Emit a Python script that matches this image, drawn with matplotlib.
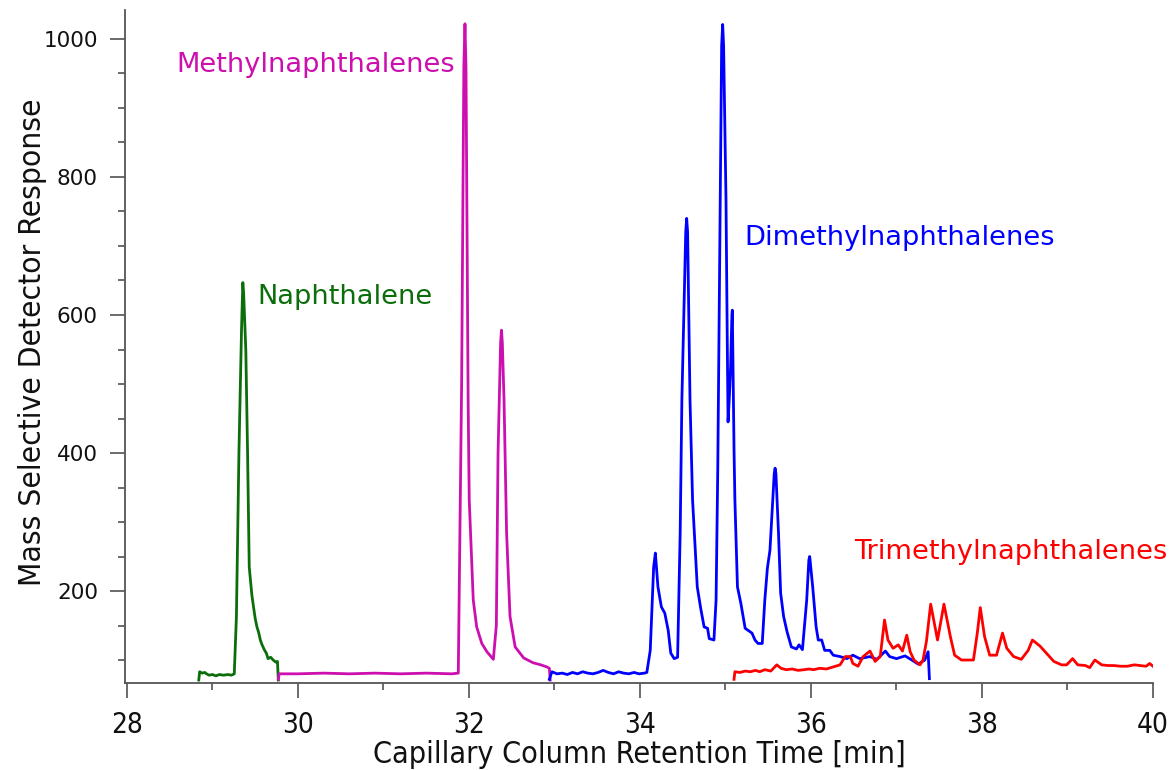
import os
import matplotlib
matplotlib.use("Agg")
import matplotlib.pyplot as plt
from matplotlib.ticker import MultipleLocator
from matplotlib import font_manager as fm

# ---------------- data ----------------
naph_t = [28.84, 28.85, 28.88, 28.91, 28.93, 28.96, 29.00, 29.04, 29.08, 29.13, 29.18, 29.22,
          29.255, 29.28, 29.31, 29.34, 29.355, 29.365, 29.39, 29.41, 29.43, 29.46, 29.48, 29.50,
          29.52, 29.54, 29.56, 29.58, 29.61, 29.63, 29.65, 29.68, 29.71, 29.74, 29.76, 29.77]
naph_v = [71, 83, 81, 82, 80, 78, 79, 77, 79, 78, 79, 78,
          80, 163, 404, 580, 647, 630, 549, 404, 235, 195, 177, 160,
          148, 140, 129, 122, 114, 110, 102, 104, 100, 97, 98, 71]

methyl_t = [29.77, 29.78, 30.0, 30.3, 30.6, 30.9, 31.2, 31.5, 31.8, 31.875, 31.914, 31.94,
            31.953, 31.965, 31.99, 32.003, 32.05, 32.09, 32.15, 32.21, 32.285, 32.32, 32.34,
            32.37, 32.38, 32.39, 32.41, 32.44, 32.48, 32.54, 32.64, 32.75, 32.84, 32.91,
            32.94, 32.95]
methyl_v = [72, 80, 80, 81, 80, 81, 80, 81, 80, 81, 500, 960,
            1022, 960, 477, 332, 187, 148, 124, 112, 101, 150, 400,
            560, 578, 560, 477, 284, 163, 119, 103, 96, 93, 90,
            88, 71]

dimethyl_t = [32.94, 32.97, 33.03, 33.09, 33.15, 33.21, 33.27, 33.33, 33.39, 33.45, 33.51,
              33.57, 33.63, 33.69, 33.75, 33.81, 33.87, 33.93, 33.99, 34.05, 34.08,
              34.12, 34.16, 34.18, 34.21, 34.25, 34.29, 34.33, 34.36, 34.40, 34.44, 34.47,
              34.49, 34.535, 34.546, 34.557, 34.585, 34.615, 34.67, 34.71, 34.75, 34.79,
              34.81, 34.865, 34.89, 34.91, 34.955, 34.967, 34.978, 35.006, 35.02, 35.03,
              35.045, 35.06, 35.075, 35.08, 35.10, 35.11, 35.14, 35.18, 35.23, 35.31,
              35.345, 35.38, 35.43, 35.46, 35.49, 35.52, 35.57, 35.58, 35.59, 35.62,
              35.645, 35.68, 35.72, 35.77, 35.83, 35.86, 35.90, 35.95, 35.975, 35.985,
              36.02, 36.06, 36.085, 36.125, 36.16, 36.22, 36.26, 36.34, 36.42, 36.49,
              36.57, 36.69, 36.77, 36.87, 36.92, 37.00, 37.10, 37.18, 37.255, 37.33,
              37.37, 37.385]
dimethyl_v = [72, 83, 80, 81, 79, 82, 80, 83, 81, 80, 82,
              85, 82, 80, 83, 81, 80, 82, 80, 81, 82,
              114, 235, 255, 206, 177, 168, 143, 110, 102, 104, 284,
              477, 720, 740, 720, 477, 332, 206, 175, 148, 146,
              131, 129, 187, 380, 990, 1021, 990, 767, 573, 445,
              480, 525, 600, 607, 404, 332, 206, 182, 146, 139,
              129, 124, 124, 187, 233, 259, 370, 378, 370, 284,
              197, 163, 141, 119, 116, 122, 115, 187, 245, 250,
              206, 148, 129, 129, 114, 114, 107, 105, 102, 107,
              102, 105, 101, 113, 105, 102, 106, 100, 94, 100,
              112, 73]

trimethyl_t = [35.10, 35.11, 35.17, 35.23, 35.29, 35.35, 35.40, 35.46, 35.53, 35.60, 35.65,
               35.71, 35.78, 35.85, 35.92, 35.98, 36.03, 36.10, 36.18, 36.26, 36.34, 36.40,
               36.46, 36.49, 36.55, 36.61, 36.69, 36.75, 36.81, 36.86, 36.90, 36.96, 37.02,
               37.07, 37.12, 37.16, 37.205, 37.275, 37.31, 37.35, 37.40, 37.48, 37.555,
               37.63, 37.68, 37.76, 37.84, 37.90, 37.945, 37.98, 38.03, 38.09, 38.17,
               38.24, 38.29, 38.37, 38.46, 38.54, 38.59, 38.68, 38.76, 38.84, 38.93,
               38.99, 39.06, 39.12, 39.21, 39.26, 39.32, 39.40, 39.47, 39.54, 39.62,
               39.70, 39.78, 39.85, 39.92, 39.96, 40.0]
trimethyl_v = [72, 83, 82, 84, 83, 85, 83, 86, 84, 93, 88,
               86, 87, 85, 86, 87, 86, 88, 87, 90, 93, 105,
               105, 95, 91, 105, 113, 98, 105, 158, 129, 117, 122,
               113, 136, 112, 100, 93, 100, 127, 181, 129, 181,
               134, 107, 100, 100, 100, 139, 176, 134, 107, 107,
               139, 117, 105, 101, 114, 129, 120, 109, 98, 93,
               93, 102, 93, 92, 89, 100, 93, 92, 92, 91,
               91, 93, 92, 91, 95, 91]

series_labels = ["Naphthalene", "Methylnaphthalenes", "Dimethylnaphthalenes", "Trimethylnaphthalenes"]
series_colors = ["#0b6e0b", "#cc0fae", "#0000ff", "#ff0000"]

x_label = "Capillary Column Retention Time [min]"
y_label = "Mass Selective Detector Response"


# ---------------- narrow font lookup ----------------
def find_narrow():
    files = [f.fname for f in fm.fontManager.ttflist]
    prefs = ["LiberationSansNarrow-Regular", "DejaVuSansCondensed.ttf", "RobotoCondensed-Regular",
             "OpenSans_Condensed-Regular", "OpenSansCondensed-Regular"]
    for p in prefs:
        for fn in files:
            if p in os.path.basename(fn):
                return fn
    for f in fm.fontManager.ttflist:
        b = os.path.basename(f.fname)
        if ("Condensed" in b or "Narrow" in b) and f.weight in (400, "normal", "regular") \
                and f.style == "normal":
            return f.fname
    return None


narrow_file = find_narrow()


def narrow_prop(size):
    if narrow_file:
        return fm.FontProperties(fname=narrow_file, size=size)
    return fm.FontProperties(family="DejaVu Sans", size=size)


# ---------------- figure ----------------
fig = plt.figure(figsize=(11.74, 7.70), dpi=100)
ax = fig.add_axes([125 / 1174, 1 - 683 / 770, (1153 - 125) / 1174, (683 - 10) / 770])

series = [(naph_t, naph_v), (methyl_t, methyl_v), (dimethyl_t, dimethyl_v), (trimethyl_t, trimethyl_v)]
for (t, v), c in zip(series, series_colors):
    ax.plot(t, v, color=c, lw=2.0, solid_joinstyle="round")

ax.set_xlim(27.977, 40.0)
ax.set_ylim(66.7, 1042)

for s in ["top", "right"]:
    ax.spines[s].set_visible(False)
for s in ["left", "bottom"]:
    ax.spines[s].set_color("#555555")
    ax.spines[s].set_linewidth(1.3)

ax.xaxis.set_major_locator(MultipleLocator(2))
ax.xaxis.set_minor_locator(MultipleLocator(1))
ax.yaxis.set_major_locator(MultipleLocator(200))
ax.yaxis.set_minor_locator(MultipleLocator(50))
ax.tick_params(which="major", direction="out", length=10.5, width=1.1, color="#444444",
               labelsize=15.5, labelcolor="#111111")
ax.tick_params(which="minor", direction="out", length=5, width=1.1, color="#444444")
ax.tick_params(axis="y", which="major", pad=9)
ax.tick_params(axis="x", which="major", pad=9.5)
for lbl in ax.get_xticklabels():
    lbl.set_fontproperties(narrow_prop(20))
    lbl.set_color("#111111")

xl = ax.set_xlabel(x_label, color="#111111")
yl = ax.set_ylabel(y_label, color="#111111")
xl.set_fontproperties(narrow_prop(22))
yl.set_fontproperties(narrow_prop(22))

# fit label sizes to the widths seen in the reference
renderer = fig.canvas.get_renderer()
for lab, target, vertical in [(xl, 533.0, False), (yl, 485.0, True)]:
    for _ in range(3):
        bb = lab.get_window_extent(renderer)
        cur = bb.height if vertical else bb.width
        lab.set_fontsize(lab.get_fontsize() * target / cur)

ax.xaxis.set_label_coords(0.5, (683 - 740) / 673)
xl.set_va("top")
ax.yaxis.set_label_coords((47 - 125) / 1028, (683 - 342) / 673)

txt = dict(fontsize=19.6, family="DejaVu Sans")
ax.text(29.52, 626, series_labels[0], color=series_colors[0], ha="left", va="center", **txt)
ax.text(28.573, 963, series_labels[1], color=series_colors[1], ha="left", va="center", **txt)
ax.text(35.22, 711, series_labels[2], color=series_colors[2], ha="left", va="center", **txt)
ax.text(36.5, 256, series_labels[3], color=series_colors[3], ha="left", va="center", **txt)

fig.savefig("out.png", dpi=100)
